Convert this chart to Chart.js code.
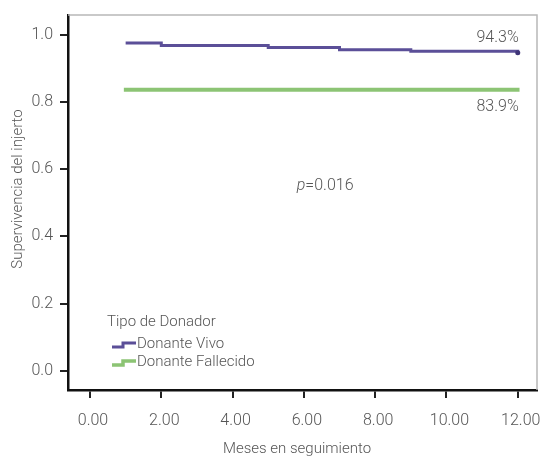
<!DOCTYPE html>
<html>
<head>
<meta charset="utf-8">
<script src="https://cdn.jsdelivr.net/npm/chart.js@4"></script>
<style>
  html, body { margin: 0; padding: 0; background: #fff; }
  canvas { display: block; }
</style>
</head>
<body>
<canvas id="kmChart" width="542" height="459"></canvas>
<script>
// Kaplan-Meier: supervivencia del injerto por tipo de donador
const mesesVivo = [1, 2, 5, 7, 9, 12]
const supVivo = [0.975, 0.967, 0.961, 0.955, 0.950, 0.946]
const mesesFallecido = [0.95, 12.05]
const supFallecido = [0.836, 0.836]
const seriesNames = ["Donante Vivo", "Donante Fallecido"]
const finalLabels = ["94.3%", "83.9%"]
const xTicks = [0, 2, 4, 6, 8, 10, 12]
const yTicks = [0, 0.2, 0.4, 0.6, 0.8, 1.0]
const xTitle = "Meses en seguimiento"
const yTitle = "Supervivencia del injerto"
const pValue = "0.016"

const FONT = "Roboto, 'Liberation Sans', sans-serif"
const TEXT = "#555"
const colors = ["#5b4f98", "#8cc474"]

const toPoints = (xs, ys) => xs.map((x, i) => ({ x, y: ys[i] }))

const overlay = {
    id: "overlay",
    afterDraw(chart) {
        const { ctx, chartArea: a, scales: { x, y } } = chart
        ctx.save()

        // marco gris superior y derecho
        ctx.strokeStyle = "#b8b8b8"
        ctx.lineWidth = 1.5
        ctx.beginPath()
        ctx.moveTo(a.left, a.top)
        ctx.lineTo(a.right, a.top)
        ctx.lineTo(a.right, a.bottom)
        ctx.stroke()

        ctx.fillStyle = TEXT
        ctx.textBaseline = "middle"

        // títulos de ejes
        ctx.font = `300 15px ${FONT}`
        ctx.textAlign = "center"
        ctx.fillText(xTitle, 297, 449)
        ctx.save()
        ctx.translate(18, 189)
        ctx.rotate(-Math.PI / 2)
        ctx.fillText(yTitle, 0, 0)
        ctx.restore()

        // porcentajes finales
        ctx.font = `300 16px ${FONT}`
        ctx.textAlign = "right"
        ctx.fillText(finalLabels[0], x.getPixelForValue(12) + 1, y.getPixelForValue(0.99))
        ctx.fillText(finalLabels[1], x.getPixelForValue(12) + 1, y.getPixelForValue(0.783))

        // p-valor
        ctx.textAlign = "left"
        const px = x.getPixelForValue(5.8)
        const py = y.getPixelForValue(0.55)
        ctx.font = `italic 300 16px ${FONT}`
        ctx.fillText("p", px, py)
        const pw = ctx.measureText("p").width
        ctx.font = `300 16px ${FONT}`
        ctx.fillText("=" + pValue, px + pw, py)

        // leyenda
        const lx = a.left + 39
        ctx.font = `300 15px ${FONT}`
        ctx.fillText("Tipo de Donador", lx, 322)
        seriesNames.forEach((name, i) => {
            const ly = 344 + i * 18
            ctx.strokeStyle = colors[i]
            ctx.lineWidth = i === 0 ? 3 : 3.5
            ctx.beginPath()
            ctx.moveTo(lx + 5, ly + 3)
            ctx.lineTo(lx + 16, ly + 3)
            ctx.lineTo(lx + 16, ly - 1)
            ctx.lineTo(lx + 29, ly - 1)
            ctx.stroke()
            ctx.fillText(name, lx + 30, ly)
        })

        ctx.restore()
    }
}

const axisFont = { family: FONT, size: 16, weight: 300 }

new Chart(document.getElementById("kmChart"), {
    type: "line",
    data: {
        datasets: [
            {
                label: seriesNames[0],
                data: toPoints(mesesVivo, supVivo),
                stepped: true,
                borderColor: colors[0],
                borderWidth: 3,
                pointRadius: mesesVivo.map((_, i) => i === mesesVivo.length - 1 ? 2.5 : 0),
                pointBackgroundColor: "#3f3578",
                pointBorderWidth: 0
            },
            {
                label: seriesNames[1],
                data: toPoints(mesesFallecido, supFallecido),
                stepped: true,
                borderColor: colors[1],
                borderWidth: 4,
                pointRadius: 0
            }
        ]
    },
    options: {
        responsive: false,
        animation: false,
        layout: { padding: { left: 0, top: 15, right: 5, bottom: 0 } },
        plugins: { legend: { display: false }, tooltip: { enabled: false } },
        scales: {
            x: {
                type: "linear",
                min: -0.617,
                max: 12.54,
                afterBuildTicks: s => { s.ticks = xTicks.map(v => ({ value: v })) },
                afterFit: s => { s.height = 69; s.paddingLeft = 0; s.paddingRight = 0 },
                ticks: { callback: v => v.toFixed(2), font: axisFont, color: TEXT, padding: 13, labelOffset: 3, maxRotation: 0, autoSkip: false },
                grid: { drawOnChartArea: false, tickLength: 8, color: "#222", lineWidth: 2 },
                border: { color: "#111", width: 2.5 }
            },
            y: {
                min: -0.057,
                max: 1.058,
                afterBuildTicks: s => { s.ticks = yTicks.map(v => ({ value: v })) },
                afterFit: s => { s.width = 68; s.paddingTop = 0; s.paddingBottom = 0 },
                ticks: { callback: v => v.toFixed(1), font: axisFont, color: TEXT, padding: 7 },
                grid: { drawOnChartArea: false, tickLength: 8, color: "#222", lineWidth: 2 },
                border: { color: "#111", width: 2.5 }
            }
        }
    },
    plugins: [overlay]
})
</script>
</body>
</html>
